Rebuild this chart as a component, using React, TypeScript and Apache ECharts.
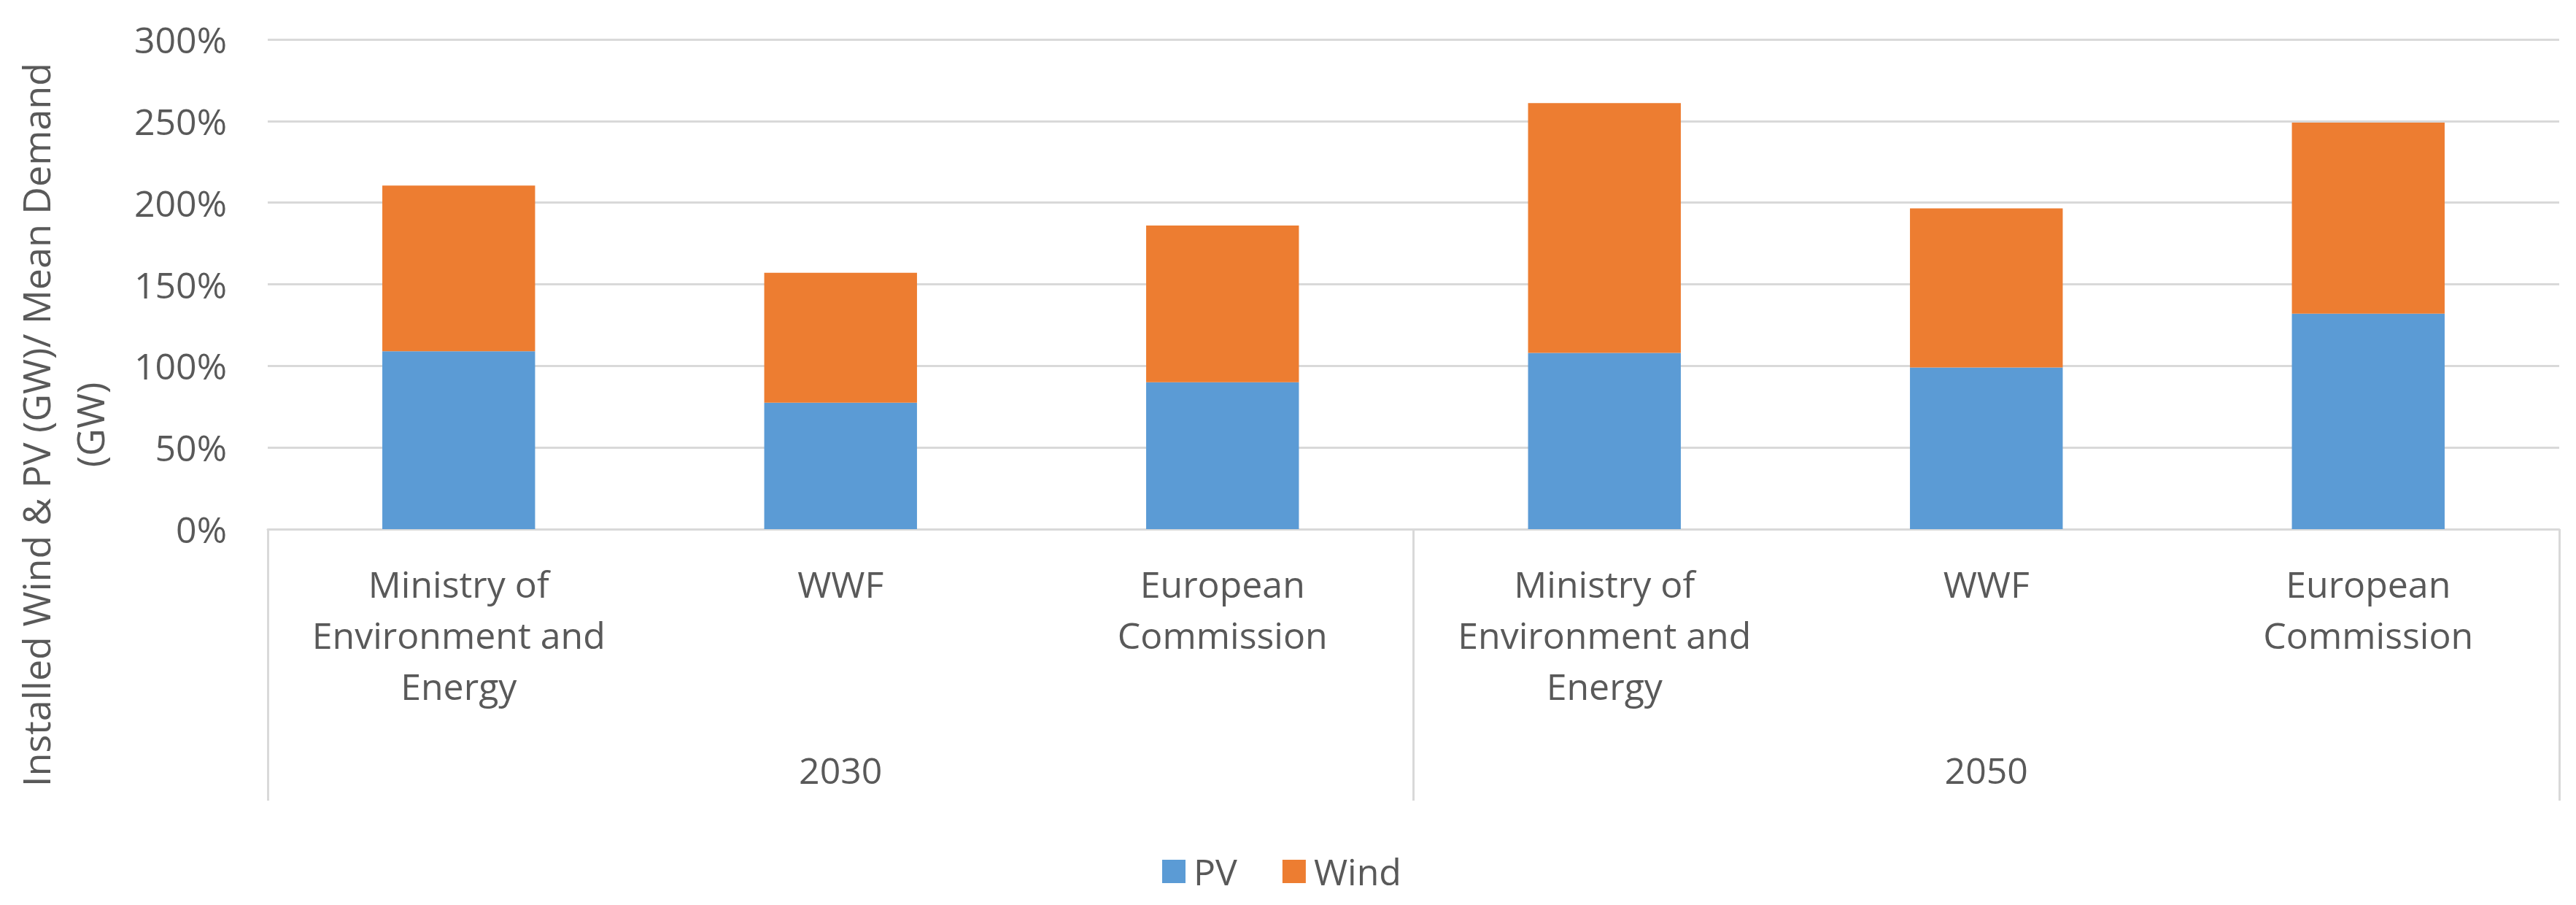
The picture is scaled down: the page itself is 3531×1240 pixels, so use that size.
import React, { useEffect, useRef } from "react";
import * as echarts from "echarts";

const categories = [
  "Ministry of\nEnvironment and\nEnergy",
  "WWF",
  "European\nCommission",
  "Ministry of\nEnvironment and\nEnergy",
  "WWF",
  "European\nCommission",
];
const years = ["2030", "2050"];
const pvValues = [109, 77.5, 90, 108, 99, 132];
const windValues = [101.5, 79.5, 96, 153, 97.5, 117];
const yTicks = { min: 0, max: 300, interval: 50 };
const axisTitleLine1 = "Installed Wind & PV (GW)/ Mean Demand";
const axisTitleLine2 = "(GW)";

const FONT = "Open Sans";
const TEXT = "#595959";
const GRID = "#d9d9d9";

export default function App() {
  const ref = useRef<HTMLDivElement>(null);
  useEffect(() => {
    if (!ref.current) return;
    const chart = echarts.init(ref.current, null, { renderer: "svg" });
    chart.setOption({
      animation: false,
      backgroundColor: "#ffffff",
      textStyle: { fontFamily: FONT, color: TEXT },
      grid: { left: 367, right: 23, top: 54, bottom: 515, containLabel: false },
      legend: {
        data: ["PV", "Wind"],
        left: 1588,
        top: 1164,
        itemWidth: 32,
        itemHeight: 32,
        itemGap: 62,
        icon: "rect",
        textStyle: { fontFamily: FONT, fontSize: 50, color: TEXT, padding: [0, 0, 0, 6] },
      },
      xAxis: [
        {
          type: "category",
          data: categories,
          axisLine: { show: true, lineStyle: { color: GRID, width: 3 } },
          axisTick: { show: false },
          axisLabel: {
            interval: 0,
            margin: 40,
            fontFamily: FONT,
            fontSize: 50,
            lineHeight: 70,
            color: TEXT,
            align: "center",
          },
        },
        {
          type: "category",
          data: years,
          position: "bottom",
          axisLine: { show: false },
          axisTick: {
            show: true,
            interval: 0,
            length: 372,
            lineStyle: { color: GRID, width: 3 },
          },
          axisLabel: {
            interval: 0,
            margin: 295,
            fontFamily: FONT,
            fontSize: 50,
            lineHeight: 70,
            color: TEXT,
          },
        },
      ],
      yAxis: {
        type: "value",
        min: yTicks.min,
        max: yTicks.max,
        interval: yTicks.interval,
        axisLine: { show: false },
        axisTick: { show: false },
        splitLine: { lineStyle: { color: GRID, width: 3 } },
        axisLabel: {
          formatter: "{value}%",
          margin: 56,
          fontFamily: FONT,
          fontSize: 50,
          color: TEXT,
        },
      },
      series: [
        {
          name: "PV",
          type: "bar",
          stack: "total",
          barWidth: "40%",
          itemStyle: { color: "#5B9BD5" },
          data: pvValues,
        },
        {
          name: "Wind",
          type: "bar",
          stack: "total",
          barWidth: "40%",
          itemStyle: { color: "#ED7D31" },
          data: windValues,
        },
      ],
      graphic: [
        {
          type: "text",
          x: 48,
          y: 582,
          rotation: Math.PI / 2,
          style: {
            text: axisTitleLine1,
            fontFamily: FONT,
            fontSize: 52,
            fill: TEXT,
            align: "center",
            verticalAlign: "middle",
          },
        },
        {
          type: "text",
          x: 122,
          y: 582,
          rotation: Math.PI / 2,
          style: {
            text: axisTitleLine2,
            fontFamily: FONT,
            fontSize: 52,
            fill: TEXT,
            align: "center",
            verticalAlign: "middle",
          },
        },
      ],
    });
    return () => chart.dispose();
  }, []);
  return (
    <div
      ref={ref}
      style={{ position: "fixed", left: 0, top: 0, width: 3531, height: 1240, background: "#fff" }}
    />
  );
}
